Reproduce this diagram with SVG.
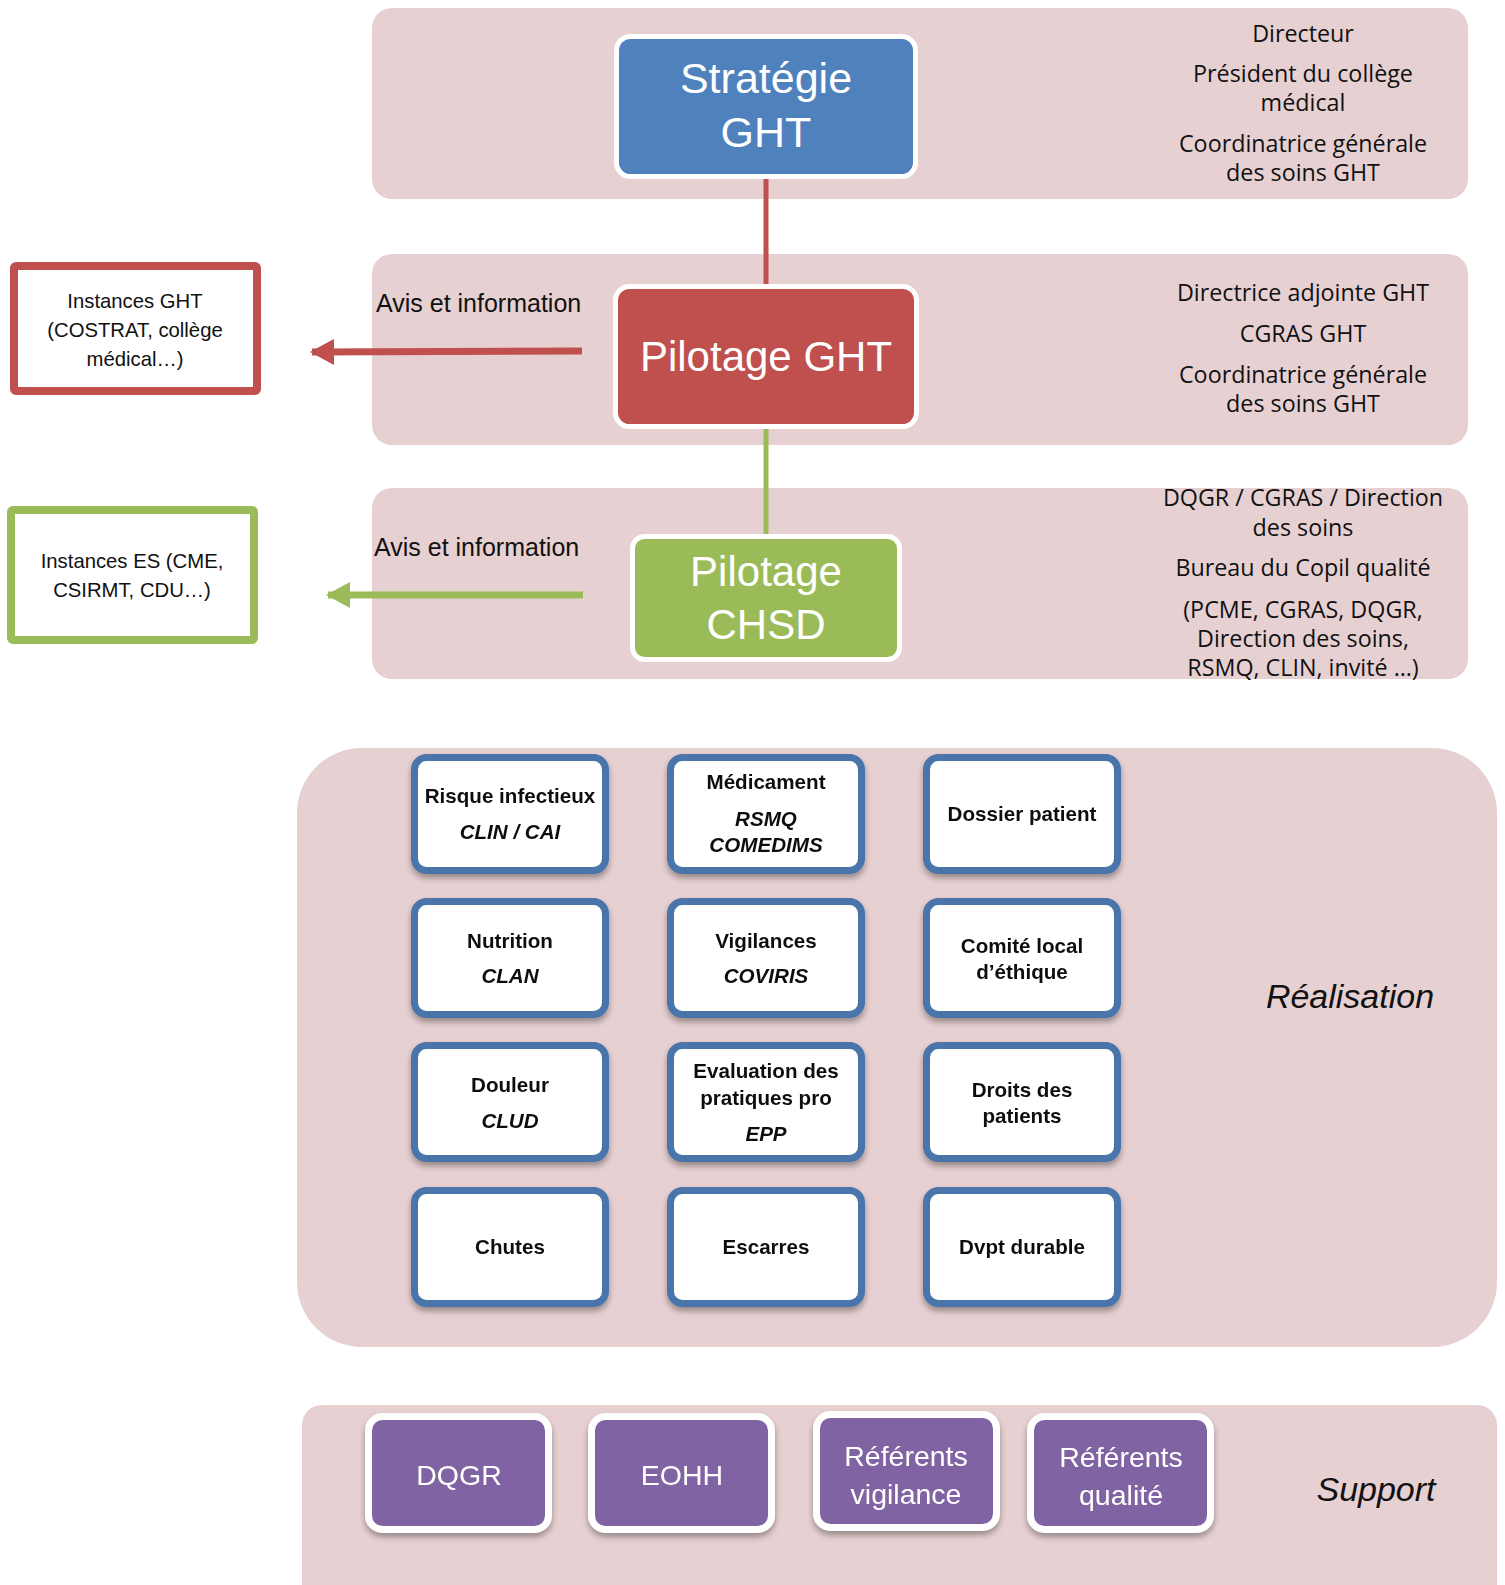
<svg xmlns="http://www.w3.org/2000/svg" width="1505" height="1585" viewBox="0 0 1505 1585">
<defs>
<style>
.band{fill:#E7D0D1}
.big{font-family:"Liberation Sans",Arial,sans-serif;fill:#fff;text-anchor:middle}
.rt{font-family:"Open Sans","Liberation Sans",sans-serif;font-size:23.3px;fill:#111;text-anchor:middle}
.lbl{font-family:"Liberation Sans",Arial,sans-serif;font-size:25px;fill:#111}
.inst{font-family:"Liberation Sans",Arial,sans-serif;font-size:20.3px;fill:#111;text-anchor:middle}
.tile{fill:#fff;stroke:#4A74AB;stroke-width:7}
.tt{font-family:"Liberation Sans",Arial,sans-serif;font-size:20.6px;font-weight:bold;fill:#111;text-anchor:middle}
.ti{font-style:italic}
.sup{fill:#8064A2;stroke:#fff;stroke-width:7}
.st{font-family:"Liberation Sans",Arial,sans-serif;font-size:28.5px;fill:#fff;text-anchor:middle}
.side{font-family:"Liberation Sans",Arial,sans-serif;font-size:34px;font-style:italic;fill:#111;text-anchor:middle}
</style>
<filter id="sh" x="-10%" y="-10%" width="120%" height="130%">
<feGaussianBlur in="SourceAlpha" stdDeviation="3"/>
<feOffset dy="4" result="b"/>
<feComponentTransfer><feFuncA type="linear" slope="0.35"/></feComponentTransfer>
<feMerge><feMergeNode/><feMergeNode in="SourceGraphic"/></feMerge>
</filter>
<marker id="arR" viewBox="0 0 24 26" refX="22" refY="13" markerWidth="24" markerHeight="26" markerUnits="userSpaceOnUse" orient="auto">
<path d="M0,0 L24,13 L0,26 z" fill="#C0504D"/>
</marker>
<marker id="arG" viewBox="0 0 24 26" refX="22" refY="13" markerWidth="24" markerHeight="26" markerUnits="userSpaceOnUse" orient="auto">
<path d="M0,0 L24,13 L0,26 z" fill="#9BBB59"/>
</marker>
</defs>
<rect width="1505" height="1585" fill="#fff"/>

<!-- bands -->
<g id="bands">
<rect class="band" x="372" y="8" width="1096" height="191" rx="20"/>
<rect class="band" x="372" y="254" width="1096" height="191" rx="20"/>
<rect class="band" x="372" y="488" width="1096" height="191" rx="20"/>
<rect class="band" x="297" y="748" width="1200" height="599" rx="65"/>
<rect class="band" x="302" y="1405" width="1195" height="220" rx="20"/>
</g>

<!-- connectors -->
<g id="connectors">
<line x1="766" y1="177" x2="766" y2="286" stroke="#C0504D" stroke-width="5"/>
<line x1="766" y1="427" x2="766" y2="536" stroke="#9BBB59" stroke-width="5"/>
<line x1="582" y1="351" x2="312" y2="352" stroke="#C0504D" stroke-width="7" marker-end="url(#arR)"/>
<line x1="583" y1="595" x2="328" y2="595" stroke="#9BBB59" stroke-width="7" marker-end="url(#arG)"/>
</g>

<!-- top nodes -->
<g id="strategie">
<rect x="616.5" y="36.5" width="299" height="140" rx="14" fill="#4F81BD" stroke="#fff" stroke-width="5"/>
<text class="big" font-size="43" x="766" y="93">Stratégie</text>
<text class="big" font-size="43" x="766" y="147">GHT</text>
</g>
<g id="pilotage-ght">
<rect x="615.5" y="286.5" width="301" height="140" rx="14" fill="#C0504D" stroke="#fff" stroke-width="5"/>
<text class="big" font-size="42" x="766" y="371">Pilotage GHT</text>
</g>
<g id="pilotage-chsd">
<rect x="632.5" y="536.5" width="267" height="123" rx="12" fill="#9BBB59" stroke="#fff" stroke-width="5"/>
<text class="big" font-size="42" x="766" y="586">Pilotage</text>
<text class="big" font-size="42" x="766" y="639">CHSD</text>
</g>

<!-- labels -->
<g id="labels">
<text class="lbl" x="376" y="312">Avis et information</text>
<text class="lbl" x="374" y="556">Avis et information</text>
<text class="rt" x="1303" y="42">Directeur</text>
<text class="rt" x="1303" y="82">Président du collège</text>
<text class="rt" x="1303" y="111">médical</text>
<text class="rt" x="1303" y="152">Coordinatrice générale</text>
<text class="rt" x="1303" y="181">des soins GHT</text>
<text class="rt" x="1303" y="301">Directrice adjointe GHT</text>
<text class="rt" x="1303" y="342">CGRAS GHT</text>
<text class="rt" x="1303" y="383">Coordinatrice générale</text>
<text class="rt" x="1303" y="412">des soins GHT</text>
<text class="rt" x="1303" y="506">DQGR / CGRAS / Direction</text>
<text class="rt" x="1303" y="536">des soins</text>
<text class="rt" x="1303" y="576">Bureau du Copil qualité</text>
<text class="rt" x="1303" y="618">(PCME, CGRAS, DQGR,</text>
<text class="rt" x="1303" y="647">Direction des soins,</text>
<text class="rt" x="1303" y="676">RSMQ, CLIN, invité …)</text>
<text class="side" x="1350" y="1008">Réalisation</text>
<text class="side" x="1376" y="1501">Support</text>
</g>

<!-- instances -->
<g id="instances-ght">
<rect x="14" y="266" width="243" height="125" fill="#fff" stroke="#C0504D" stroke-width="8" rx="2"/>
<text class="inst" x="135" y="308">Instances GHT</text>
<text class="inst" x="135" y="337">(COSTRAT, collège</text>
<text class="inst" x="135" y="366">médical…)</text>
</g>
<g id="instances-es">
<rect x="11" y="510" width="243" height="130" fill="#fff" stroke="#9BBB59" stroke-width="8" rx="2"/>
<text class="inst" x="132" y="568">Instances ES (CME,</text>
<text class="inst" x="132" y="597">CSIRMT, CDU…)</text>
</g>

<!-- realisation tiles -->
<g id="t-risque" filter="url(#sh)">
<rect class="tile" x="414.5" y="757.5" width="191" height="113" rx="12"/>
<text class="tt" x="510" y="803">Risque infectieux</text>
<text class="tt ti" x="510" y="839">CLIN / CAI</text>
</g>
<g id="t-medicament" filter="url(#sh)">
<rect class="tile" x="670.5" y="757.5" width="191" height="113" rx="12"/>
<text class="tt" x="766" y="789">Médicament</text>
<text class="tt ti" x="766" y="826">RSMQ</text>
<text class="tt ti" x="766" y="852">COMEDIMS</text>
</g>
<g id="t-dossier" filter="url(#sh)">
<rect class="tile" x="926.5" y="757.5" width="191" height="113" rx="12"/>
<text class="tt" x="1022" y="821">Dossier patient</text>
</g>
<g id="t-nutrition" filter="url(#sh)">
<rect class="tile" x="414.5" y="901.5" width="191" height="113" rx="12"/>
<text class="tt" x="510" y="948">Nutrition</text>
<text class="tt ti" x="510" y="983">CLAN</text>
</g>
<g id="t-vigilances" filter="url(#sh)">
<rect class="tile" x="670.5" y="901.5" width="191" height="113" rx="12"/>
<text class="tt" x="766" y="948">Vigilances</text>
<text class="tt ti" x="766" y="983">COVIRIS</text>
</g>
<g id="t-comite" filter="url(#sh)">
<rect class="tile" x="926.5" y="901.5" width="191" height="113" rx="12"/>
<text class="tt" x="1022" y="953">Comité local</text>
<text class="tt" x="1022" y="979">d’éthique</text>
</g>
<g id="t-douleur" filter="url(#sh)">
<rect class="tile" x="414.5" y="1045.5" width="191" height="113" rx="12"/>
<text class="tt" x="510" y="1092">Douleur</text>
<text class="tt ti" x="510" y="1128">CLUD</text>
</g>
<g id="t-epp" filter="url(#sh)">
<rect class="tile" x="670.5" y="1045.5" width="191" height="113" rx="12"/>
<text class="tt" x="766" y="1078">Evaluation des</text>
<text class="tt" x="766" y="1105">pratiques pro</text>
<text class="tt ti" x="766" y="1141">EPP</text>
</g>
<g id="t-droits" filter="url(#sh)">
<rect class="tile" x="926.5" y="1045.5" width="191" height="113" rx="12"/>
<text class="tt" x="1022" y="1097">Droits des</text>
<text class="tt" x="1022" y="1123">patients</text>
</g>
<g id="t-chutes" filter="url(#sh)">
<rect class="tile" x="414.5" y="1190.5" width="191" height="113" rx="12"/>
<text class="tt" x="510" y="1254">Chutes</text>
</g>
<g id="t-escarres" filter="url(#sh)">
<rect class="tile" x="670.5" y="1190.5" width="191" height="113" rx="12"/>
<text class="tt" x="766" y="1254">Escarres</text>
</g>
<g id="t-dvpt" filter="url(#sh)">
<rect class="tile" x="926.5" y="1190.5" width="191" height="113" rx="12"/>
<text class="tt" x="1022" y="1254">Dvpt durable</text>
</g>

<!-- support -->
<g id="s-dqgr" filter="url(#sh)">
<rect class="sup" x="368.5" y="1416.5" width="180" height="113" rx="14"/>
<text class="st" x="459" y="1485">DQGR</text>
</g>
<g id="s-eohh" filter="url(#sh)">
<rect class="sup" x="591.5" y="1416.5" width="180" height="113" rx="14"/>
<text class="st" x="682" y="1485">EOHH</text>
</g>
<g id="s-vigilance" filter="url(#sh)">
<rect class="sup" x="816.5" y="1414.5" width="180" height="113" rx="14"/>
<text class="st" x="906" y="1466">Référents</text>
<text class="st" x="906" y="1504">vigilance</text>
</g>
<g id="s-qualite" filter="url(#sh)">
<rect class="sup" x="1030.5" y="1416.5" width="180" height="113" rx="14"/>
<text class="st" x="1121" y="1467">Référents</text>
<text class="st" x="1121" y="1505">qualité</text>
</g>
</svg>
